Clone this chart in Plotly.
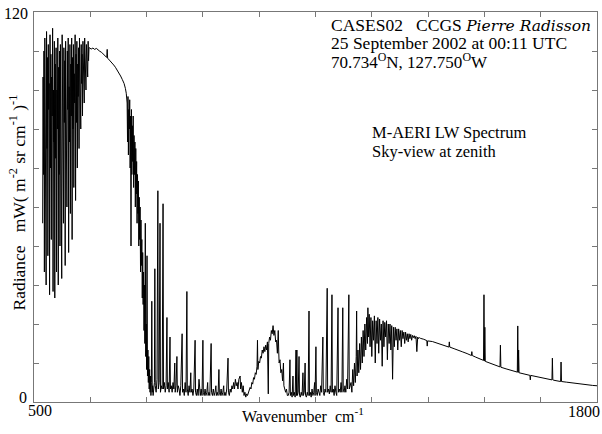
import plotly.graph_objects as go

# ---------------- data ----------------
# H2O rotational band, dense lines, 1 cm-1 grid from 520 to 627
wn_rot = list(range(520, 628))
rad_rot = [55,100,70,108,40,112,85,104,36,114, 78,106,45,110,90,98,33,113,72,107,
           50,100,88,115,34,96,80,111,32,104, 75,109,40,96,84,112,36,103,70,108,
           48,110,82,99,38,113,76,92,55,109, 86,105,42,111,78,100,60,108,90,112,
           46,97,80,110,58,104,88,112,50,106, 84,110,66,101,92,113,62,107,86,111,
           72,104,94,109,78,112,96,105,84,110, 98,107,88,111,100,108,92,112,102,109,
           96,110,104,108,100,111,105,109]

# CO2 band centre, saturated (smooth)
co2_top = [(628,109),(632,108.6),(636,108.9),(640,108.5),(644,108.8),(648,108.2),
           (652,107.9),(656,107.6),(660,107.1),(664,106.6),(668,106.0),(669,108.5),
           (670,105.8),(674,105.2),(680,104.4),(684,103.7),(688,103.0),(692,102.2),
           (696,101.3),(700,100.3),(704,99.2),(708,98.0),(711,96.5),(713,95.0)]

# CO2 band wing, 1 cm-1 grid from 715 to 775
wn_wing = list(range(715, 776))
rad_wing = [92,80,94,76,90,84,93,72,88,48, 90,70,85,74,88,66,82,70,80,60,
            78,64,74,55,70,58,68,48,63,50, 60,40,56,42,50,32,46,30,40,22,
            36,18,55,14,24,10,45,8,16,6, 14,4,10,3,8,2,6,31,3,5, 2]

# atmospheric window with lines
window = [(776,4),(778,6),(779,41),(780,5),(782,3),(784,7),(786,65),(787,4),(789,6),
          (791,55),(792,3),(794,5),(796,4),(798,61),(799,4),(801,6),(803,3),(805,5),
          (807,26),(808,4),(810,6),(812,3),(814,20),(815,4),(817,5),(819,3),(821,6),
          (823,4),(825,12),(826,3),(828,5),(830,14),(831,3),(833,5),(835,4),(837,2),
          (839,5),(842,21),(843,3),(845,4),(847,2),(849,6),(851,3),(853,34),(854,4),
          (856,2),(858,5),(860,3),(862,9),(863,3),(865,4),(867,2),(869,4),(872,19),
          (873,3),(875,2),(877,4),(879,2),(881,7),(882,3),(884,2),(886,4),(888,2),
          (890,19),(891,3),(893,2),(895,4),(897,2),(899,3),(901,6),(902,2),(904,3),
          (906,2),(909,18),(910,3),(912,2),(914,4),(916,2),(918,3),(920,5),(921,2),
          (923,3),(925,2),(927,10),(928,3),(930,2),(932,4),(934,2),(936,3),(938,5),
          (939,2),(941,3),(943,2),(945,4),(948,13.5),(949,3),(951,2),(953,4),(955,3),
          (957,5),(959,4),(961,6),(963,4),(965,7),(967,5),(969,6),(971,4),(973,7),
          (976,8),(977,4),(979,6),(981,3),(983,5),(985,2),(987,3),(989,1.5)]

# O3 band
ozone = [(991,2.5),(993,2),(995,3),(997,3.5),(999,4.5),(1001,4),(1003,6),(1005,5.5),
         (1007,7.5),(1009,7),(1011,9),(1013,8.5),(1015,11),(1016,19),(1017,10),
         (1019,12.5),(1021,12),(1023,14),(1025,13.5),(1027,16),(1029,15),(1031,17),
         (1033,15.5),(1035,17.5),(1037,16),(1039,18.5),(1041,2.5),(1042,18),(1044,20),
         (1046,19),(1048,22),(1050,21),(1052,23.5),(1054,20.5),(1056,22),(1058,18.5),
         (1060,19),(1062,15),(1064,22),(1065,16),(1066,12),(1068,13),(1070,9),(1072,10),
         (1074,6.5),(1076,12),(1077,5),(1079,4),(1081,3),(1083,4),(1085,2)]

# second window with lines
window2 = [(1087,2),(1089,3),(1091,13),(1092,2),(1094,3),(1096,1.5),(1098,8),(1099,2),
           (1101,3),(1103,1.5),(1105,16),(1106,2),(1107,16),(1108,2),(1110,3),(1112,14),
           (1113,2),(1115,1.5),(1117,3),(1119,2),(1121,9),(1122,2),(1124,3),(1126,12),
           (1127,2),(1129,1.5),(1131,3),(1133,2),(1135,28),(1136,2),(1138,3),(1140,1.5),
           (1142,4),(1144,2),(1146,3),(1148,6),(1149,2),(1151,17),(1152,3),(1154,2),
           (1156,4),(1158,3),(1160,2),(1162,5),(1164,3),(1167,20),(1168,3),(1170,2),
           (1172,4),(1174,3),(1177,35),(1178,3),(1180,4),(1182,2.5),(1184,5),(1186,3),
           (1188,33),(1189,3),(1191,4),(1193,2),(1195,5),(1197,3),(1199,2),(1202,29),
           (1203,3),(1205,4),(1207,3),(1209,6),(1211,3),(1213,29),(1214,4),(1216,3),
           (1218,5),(1220,3),(1222,7),(1224,4),(1227,33),(1228,4),(1230,5)]

# H2O v2 band edge
h2o_v2 = [(1232,6),(1234,3),(1236,10),(1238,5),(1240,12),(1242,6),(1244,14),(1245,28),
          (1246,8),(1248,16),(1250,9),(1252,18),(1254,10),(1256,20),(1258,12),(1260,22),
          (1262,14),(1264,24),(1266,16),(1268,26),(1270,18),(1271,29),(1272,20),(1274,27),
          (1276,17),(1278,26),(1280,14),(1282,25),(1284,19),(1286,26.5),(1288,12),(1290,25),
          (1292,18),(1294,26),(1296,15),(1298,25.5),(1300,19),(1302,24),(1304,11),(1306,25),
          (1308,17),(1310,24.5),(1312,20),(1314,25),(1316,13),(1318,24),(1320,18),(1322,24),
          (1324,16),(1326,23.5),(1328,7),(1330,23),(1332,17),(1334,23),(1336,19),(1338,22.5),
          (1340,16),(1342,22.5),(1344,19),(1346,22),(1348,17),(1350,22),(1352,19.5),
          (1354,21.5),(1356,18),(1358,21.5),(1360,19),(1362,21),(1364,18.5),(1366,21),
          (1368,19.5),(1370,20.8),(1372,19),(1374,20.5),(1376,19.8),(1378,20.4),(1380,19.5),
          (1382,20.2),(1384,15.5),(1386,20),(1388,19.5),(1390,19.8)]

# saturated continuum tail
tail = [(1392,19.6),(1400,19.3),(1407,18.9),(1408,17.2),(1409,18.8),(1420,18.6),
        (1430,18.2),(1440,17.7),(1450,17.3),(1458,16.9),(1459,18.5),(1460,16.9),
        (1470,16.4),(1480,16.0),(1490,15.4),(1500,14.9),(1510,14.3),(1511,15.5),
        (1512,14.3),(1520,13.8),(1530,13.2),(1538,12.8),(1539,33),(1540,12.6),(1541,23),
        (1542,12.5),(1550,12.1),(1560,11.6),(1570,11.1),(1576,10.8),(1577,17.5),
        (1578,10.7),(1590,10.2),(1600,9.8),(1610,9.4),(1616,9.2),(1617,23.4),(1618,9.1),
        (1619,16),(1620,9.0),(1630,8.7),(1640,8.4),(1645,8.2),(1646,6.8),(1647,8.2),
        (1650,8.1),(1660,7.8),(1670,7.5),(1680,7.2),(1690,7.0),(1696,6.8),(1697,13.5),
        (1698,6.8),(1700,6.7),(1710,6.5),(1716,6.3),(1717,12.3),(1718,6.3),(1730,6.1),
        (1740,5.9),(1750,5.7),(1760,5.5),(1770,5.4),(1780,5.3),(1790,5.1),(1800,5.0)]

x_tick_labels = ["500", "1800"]
y_tick_labels = ["0", "120"]

# ---------------- assemble ----------------
wn = list(wn_rot)
rad = list(rad_rot)
wn += [p[0] for p in co2_top]; rad += [p[1] for p in co2_top]
wn += wn_wing; rad += rad_wing
for seg in (window, ozone, window2, h2o_v2, tail):
    wn += [p[0] for p in seg]; rad += [p[1] for p in seg]

W, H = 602, 434
L, R, T, B = 34, 5, 12, 32
PW, PH = W - L - R, H - T - B
def fx(x): return (x - L) / PW
def fy(y): return (H - B - y) / PH

FONT = "Liberation Serif, Times New Roman, serif"

fig = go.Figure()
fig.add_trace(go.Scatter(x=wn, y=rad, mode="lines",
                         line=dict(color="black", width=1), hoverinfo="skip"))

axis_common = dict(showgrid=False, zeroline=False, showline=True, linecolor="#777777",
                   linewidth=1, mirror="ticks", ticks="inside", ticklen=5,
                   tickcolor="#777777", tickwidth=1, showticklabels=False)
fig.update_xaxes(range=[500, 1800], tick0=500, dtick=130, **axis_common)
fig.update_yaxes(range=[0, 120], tick0=0, dtick=12, **axis_common)

ann = []
def add(text, x, y, size, xanchor="left", yanchor="middle", angle=0):
    ann.append(dict(text=text, x=fx(x), y=fy(y), xref="paper", yref="paper",
                    xanchor=xanchor, yanchor=yanchor, showarrow=False, textangle=angle,
                    font=dict(family=FONT, size=size, color="black")))

nb = "\u00a0"
add("CASES02" + nb * 3 + "CCGS <span style='font-family:DejaVu Serif;font-size:15.5px'>"
    "<i>Pierre Radisson</i></span>", 329, 25, 17.5)
add("25 September 2002 at 00:11 UTC", 329, 43, 17.5)
add("70.734<sup>O</sup>N, 127.750<sup>O</sup>W", 329, 61, 17)
add("M-AERI LW Spectrum", 370, 132, 16.5)
add("Sky-view at zenith", 370, 152, 16.5)

add("Wavenumber" + nb * 2 + "cm<sup>-1</sup>", 303, 415, 16, xanchor="center")
add("Radiance" + nb * 3 + "mW( m<sup>-2</sup> sr cm<sup>-1</sup> )<sup>-1</sup>",
    17.5, 203, 17.5, xanchor="center", angle=-90)

add(x_tick_labels[0], 40, 411, 16, xanchor="center")
add(x_tick_labels[1], 584, 412, 16, xanchor="center")
add(y_tick_labels[0], 29, 397, 16, xanchor="right")
add(y_tick_labels[1], 30, 14, 16, xanchor="right")

fig.update_layout(width=W, height=H, margin=dict(l=L, r=R, t=T, b=B, pad=0),
                  plot_bgcolor="white", paper_bgcolor="white", showlegend=False,
                  annotations=ann)

fig.write_html("out.html", config={"displayModeBar": False})
